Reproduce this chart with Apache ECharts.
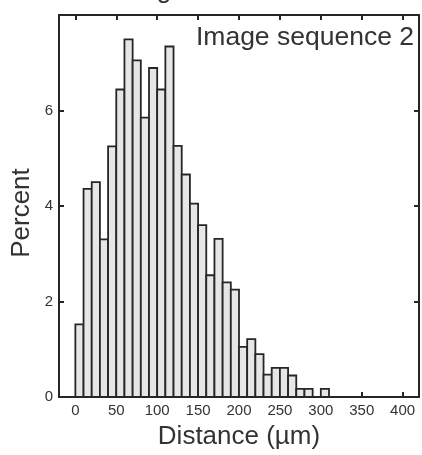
<!DOCTYPE html>
<html>
<head>
<meta charset="utf-8">
<script src="https://cdn.jsdelivr.net/npm/echarts@6/dist/echarts.min.js"></script>
<style>html,body{margin:0;padding:0;background:#fff}#c{width:422px;height:455px}</style>
</head>
<body>
<div id="c"></div>
<script>
const binStarts = [0,10,20,30,40,50,60,70,80,90,100,110,120,130,140,150,160,170,180,190,200,210,220,230,240,250,260,270,280,290,300];
const percents = [1.52,4.36,4.50,3.30,5.25,6.44,7.49,7.05,5.85,6.89,6.44,7.34,5.26,4.66,4.05,3.60,2.55,3.31,2.40,2.25,1.05,1.21,0.90,0.47,0.61,0.61,0.45,0.17,0.17,0,0.17];
const binWidth = 10;
const xTicks = [0,50,100,150,200,250,300,350,400];
const yTicks = [0,2,4,6];
const titleText = 'Organoid distances';
const panelLabel = 'Image sequence 2';
const xName = 'Distance (µm)';
const yName = 'Percent';

const FONT = 'Liberation Sans, Arial, sans-serif';
const AX = '#262626';
const chart = echarts.init(document.getElementById('c'), null, {renderer:'canvas'});
const data = binStarts.map((s,i)=>[s, percents[i]]);
const axisCommon = {
  axisLine:{show:true, onZero:false, lineStyle:{color:AX, width:2}},
  axisTick:{show:true, inside:true, length:5, lineStyle:{color:AX, width:2}},
  splitLine:{show:false}
};
chart.setOption({
  animation:false,
  grid:{left:59, right:3, top:15, bottom:58},
  xAxis:[
    Object.assign({}, axisCommon, {type:'value', position:'bottom', min:-20, max:420,
      axisTick:Object.assign({}, axisCommon.axisTick, {customValues:xTicks}),
      axisLabel:{customValues:xTicks, fontSize:15, color:'#333', fontFamily:FONT, margin:6},
      name:xName, nameLocation:'middle', nameGap:27,
      nameTextStyle:{fontSize:26, color:'#333', fontFamily:FONT}}),
    Object.assign({}, axisCommon, {type:'value', position:'top', min:-20, max:420,
      axisTick:Object.assign({}, axisCommon.axisTick, {customValues:xTicks}),
      axisLabel:{show:false}})
  ],
  yAxis:[
    Object.assign({}, axisCommon, {type:'value', position:'left', min:0, max:8,
      axisTick:Object.assign({}, axisCommon.axisTick, {customValues:yTicks}),
      axisLabel:{customValues:yTicks, fontSize:15, color:'#333', fontFamily:FONT, margin:6}}),
    Object.assign({}, axisCommon, {type:'value', position:'right', min:0, max:8,
      axisTick:Object.assign({}, axisCommon.axisTick, {customValues:yTicks}),
      axisLabel:{show:false}})
  ],
  graphic:[
    {type:'text', x:414, y:38, style:{text:panelLabel, fontSize:26.5, fontFamily:FONT, fill:'#333', textAlign:'right', textVerticalAlign:'middle'}},
    {type:'text', x:240, y:-9, style:{text:titleText, fontSize:26, fontFamily:FONT, fill:'#333', textAlign:'center', textVerticalAlign:'middle'}},
    {type:'text', x:22, y:213, rotation:Math.PI/2, style:{text:yName, fontSize:26, fontFamily:FONT, fill:'#333', textAlign:'center', textVerticalAlign:'middle'}}
  ],
  series:[{
    type:'custom',
    xAxisIndex:0, yAxisIndex:0,
    data:data,
    encode:{x:0, y:1},
    renderItem:function(params, api){
      const s = api.value(0), v = api.value(1);
      if (v <= 0) return null;
      const p0 = api.coord([s, v]);
      const p1 = api.coord([s + binWidth, 0]);
      return {type:'rect', shape:{x:p0[0], y:p0[1], width:p1[0]-p0[0], height:p1[1]-p0[1]},
        style:{fill:'#e6e6e6', stroke:AX, lineWidth:1.8}};
    }
  }]
});
</script>
</body>
</html>
